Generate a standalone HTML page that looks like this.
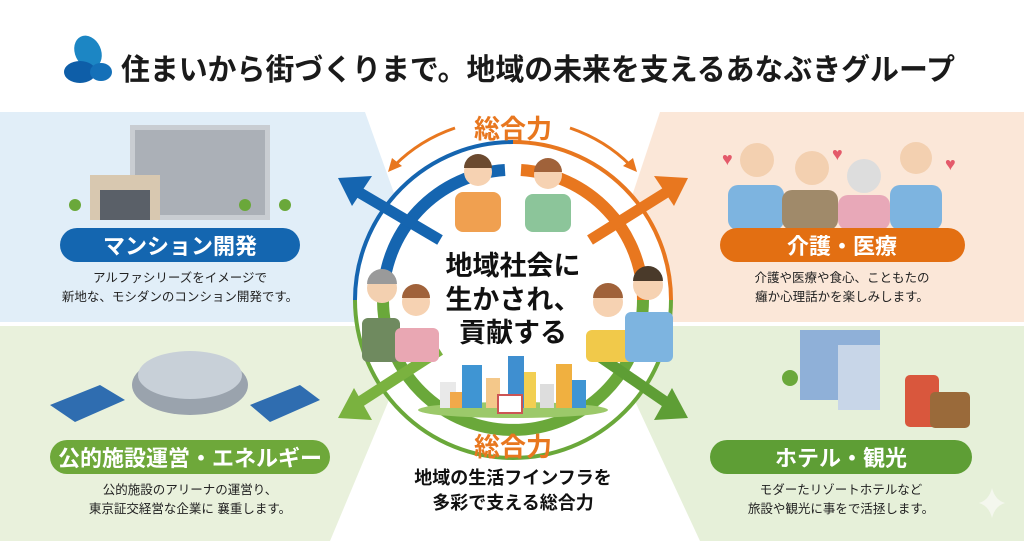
<!DOCTYPE html>
<html><head><meta charset="utf-8"><style>
html,body{margin:0;padding:0;width:1024px;height:541px;overflow:hidden;background:#fff}
svg text{font-family:"Liberation Sans","Noto Sans CJK JP",sans-serif}
</style></head><body>
<svg width="1024" height="541" viewBox="0 0 1024 541" xmlns="http://www.w3.org/2000/svg">
<rect width="1024" height="541" fill="#fff"/>
<!-- panels -->
<polygon points="0,112 365,112 440,322 0,322" fill="#e1eef8"/>
<polygon points="660,112 1024,112 1024,322 590,322" fill="#fbe7d8"/>
<polygon points="0,326 420,326 330,541 0,541" fill="#e9f1dc"/>
<polygon points="600,326 1024,326 1024,541 700,541" fill="#e6f0d9"/>
<!-- title -->
<ellipse cx="88" cy="52" rx="13" ry="17" fill="#1c86c4" transform="rotate(-25 88 52)"/>
<ellipse cx="80" cy="72" rx="16" ry="11" fill="#0e5ea8"/>
<ellipse cx="101" cy="72" rx="11" ry="9" fill="#1470b8"/>
<text x="121" y="80" font-size="30" font-weight="bold" fill="#1a1a1a" textLength="834" lengthAdjust="spacingAndGlyphs">住まいから街づくりまで。地域の未来を支えるあなぶきグループ</text>
<!-- center circle -->
<circle cx="513" cy="300" r="158" fill="#fff"/>
<path d="M513,142 A158,158 0 0 0 355,300" fill="none" stroke="#1565b0" stroke-width="4"/>
<path d="M513,142 A158,158 0 0 1 671,300" fill="none" stroke="#e8771f" stroke-width="4"/>
<path d="M355,300 A158,158 0 0 0 671,300" fill="none" stroke="#6aa83a" stroke-width="4"/>
<path d="M505,170 A130,130 0 0 0 383,300" fill="none" stroke="#1565b0" stroke-width="12"/>
<path d="M521,170 A130,130 0 0 1 643,300" fill="none" stroke="#e8771f" stroke-width="12"/>
<path d="M383,300 A130,130 0 0 0 643,300" fill="none" stroke="#6aa83a" stroke-width="12"/>
<!-- diagonal arrows -->
<g stroke-width="11" fill="none">
<line x1="440" y1="240" x2="355" y2="190" stroke="#1565b0"/>
<line x1="590" y1="240" x2="670" y2="190" stroke="#e8771f"/>
<line x1="440" y1="350" x2="355" y2="405" stroke="#7ab23f"/>
<line x1="590" y1="350" x2="670" y2="405" stroke="#5e9e35"/>
</g>
<polygon points="338,178 372,176 352,206" fill="#1565b0"/>
<polygon points="688,178 654,176 674,206" fill="#e8771f"/>
<polygon points="338,418 354,388 372,420" fill="#7ab23f"/>
<polygon points="688,418 672,388 654,420" fill="#5e9e35"/>
<!-- top 総合力 arrows -->
<path d="M455,128 Q420,140 395,165" fill="none" stroke="#e8771f" stroke-width="3"/>
<polygon points="388,172 392,158 402,166" fill="#e8771f"/>
<path d="M570,128 Q605,140 630,165" fill="none" stroke="#e8771f" stroke-width="3"/>
<polygon points="637,172 633,158 623,166" fill="#e8771f"/>
<text x="513" y="138" font-size="26" font-weight="bold" fill="#e8771f" text-anchor="middle">総合力</text>
<!-- people -->
<g>
<rect x="455" y="192" width="46" height="40" rx="8" fill="#f0a050"/><circle cx="478" cy="172" r="14" fill="#f6d2b2"/><path d="M464,168 a14,14 0 0 1 28,0 z" fill="#6b4a2f"/>
<rect x="525" y="194" width="46" height="38" rx="8" fill="#8cc59a"/><circle cx="548" cy="175" r="14" fill="#f6d2b2"/><path d="M534,172 a14,14 0 0 1 28,0 z" fill="#a0623a"/>
<rect x="362" y="318" width="38" height="44" rx="6" fill="#6f8a5f"/><circle cx="382" cy="288" r="15" fill="#f3d0b0"/><path d="M367,284 a15,15 0 0 1 30,0 z" fill="#9a9a9a"/>
<rect x="395" y="328" width="44" height="34" rx="6" fill="#e9a7b3"/><circle cx="416" cy="302" r="14" fill="#f6d2b2"/><path d="M402,298 a14,14 0 0 1 28,0 z" fill="#a0623a"/>
<rect x="586" y="330" width="48" height="32" rx="6" fill="#f1c94a"/><circle cx="608" cy="302" r="15" fill="#f6d2b2"/><path d="M593,298 a15,15 0 0 1 30,0 z" fill="#a0623a"/>
<rect x="625" y="312" width="48" height="50" rx="6" fill="#7db4e0"/><circle cx="648" cy="285" r="15" fill="#f6d2b2"/><path d="M633,281 a15,15 0 0 1 30,0 z" fill="#4a3a2a"/>
</g>
<!-- center text -->
<text x="513" y="275" font-size="27" font-weight="bold" fill="#111" text-anchor="middle">地域社会に</text>
<text x="513" y="309" font-size="27" font-weight="bold" fill="#111" text-anchor="middle">生かされ、</text>
<text x="513" y="342" font-size="27" font-weight="bold" fill="#111" text-anchor="middle">貢献する</text>
<!-- city -->
<ellipse cx="513" cy="410" rx="95" ry="8" fill="#9cc96a"/>
<rect x="440" y="382" width="16" height="26" fill="#e9e9e9"/><rect x="450" y="392" width="16" height="16" fill="#f1a94a"/>
<rect x="462" y="365" width="20" height="43" fill="#3f95d3"/><rect x="486" y="378" width="14" height="30" fill="#f4c88a"/>
<rect x="508" y="356" width="16" height="52" fill="#3f8fd0"/><rect x="524" y="372" width="12" height="36" fill="#f2cf52"/>
<rect x="540" y="384" width="14" height="24" fill="#ddd"/><rect x="556" y="364" width="16" height="44" fill="#f0b040"/><rect x="572" y="380" width="14" height="28" fill="#3f95d3"/>
<rect x="498" y="395" width="24" height="18" fill="#fff" stroke="#c55" stroke-width="2"/>
<!-- bottom 総合力 -->
<text x="513" y="456" font-size="26" font-weight="bold" fill="#e8771f" text-anchor="middle">総合力</text>
<text x="513" y="484" font-size="18" font-weight="bold" fill="#111" text-anchor="middle">地域の生活フインフラを</text>
<text x="513" y="509" font-size="18" font-weight="bold" fill="#111" text-anchor="middle">多彩で支える総合力</text>
<!-- mansion illustration -->
<rect x="130" y="125" width="140" height="95" fill="#c9cdd2"/><rect x="135" y="130" width="130" height="85" fill="#8d949b" opacity=".5"/>
<rect x="90" y="175" width="70" height="45" fill="#d8c8b0"/><rect x="100" y="190" width="50" height="30" fill="#5a6068"/>
<circle cx="75" cy="205" r="6" fill="#6aa83a"/><circle cx="245" cy="205" r="6" fill="#6aa83a"/><circle cx="285" cy="205" r="6" fill="#6aa83a"/>
<rect x="60" y="228" width="240" height="34" rx="17" fill="#1466b0"/>
<text x="180" y="254" font-size="22" font-weight="bold" fill="#fff" text-anchor="middle">マンション開発</text>
<text x="180" y="282" font-size="12.5" fill="#222" text-anchor="middle">アルファシリーズをイメージで</text>
<text x="180" y="301" font-size="12.5" fill="#222" text-anchor="middle">新地な、モシダンのコンション開発です。</text>
<!-- care illustration -->
<text x="722" y="165" font-size="18" fill="#e45a6a">♥</text><text x="832" y="160" font-size="18" fill="#e45a6a">♥</text><text x="945" y="170" font-size="18" fill="#e45a6a">♥</text>
<rect x="728" y="185" width="56" height="45" rx="10" fill="#7db4e0"/><circle cx="757" cy="160" r="17" fill="#f3d0b0"/>
<rect x="782" y="190" width="56" height="40" rx="10" fill="#a08a6a"/><circle cx="812" cy="168" r="17" fill="#f3d0b0"/>
<rect x="838" y="195" width="52" height="35" rx="10" fill="#e8a8b8"/><circle cx="864" cy="176" r="17" fill="#ddd"/>
<rect x="890" y="185" width="52" height="45" rx="10" fill="#7db4e0"/><circle cx="916" cy="158" r="16" fill="#f3d0b0"/>
<rect x="720" y="228" width="245" height="34" rx="17" fill="#e36f12"/>
<text x="842" y="254" font-size="22" font-weight="bold" fill="#fff" text-anchor="middle">介護・医療</text>
<text x="842" y="282" font-size="12.5" fill="#222" text-anchor="middle">介護や医療や食心、こともたの</text>
<text x="842" y="301" font-size="12.5" fill="#222" text-anchor="middle">癰か心理話かを楽しみします。</text>
<!-- arena/solar -->
<ellipse cx="190" cy="385" rx="58" ry="30" fill="#9aa3ad"/><ellipse cx="190" cy="375" rx="52" ry="24" fill="#c8d0d8"/>
<polygon points="50,405 100,385 125,400 75,422" fill="#2f6db0"/>
<polygon points="250,405 300,385 320,400 270,422" fill="#2f6db0"/>
<rect x="50" y="440" width="280" height="34" rx="17" fill="#6ea83a"/>
<text x="190" y="466" font-size="22" font-weight="bold" fill="#fff" text-anchor="middle">公的施設運営・エネルギー</text>
<text x="190" y="494" font-size="12.5" fill="#222" text-anchor="middle">公的施設のアリーナの運営り、</text>
<text x="190" y="513" font-size="12.5" fill="#222" text-anchor="middle">東京証交経営な企業に 襄重します。</text>
<!-- hotel -->
<rect x="800" y="330" width="80" height="70" fill="#8fb0d8"/><rect x="838" y="345" width="42" height="65" fill="#c8d6e8"/>
<circle cx="790" cy="378" r="8" fill="#6aa83a"/>
<rect x="905" y="375" width="34" height="52" rx="5" fill="#d9573d"/><rect x="930" y="392" width="40" height="36" rx="5" fill="#9a6a3a"/>
<rect x="710" y="440" width="262" height="34" rx="17" fill="#5e9e35"/>
<text x="841" y="466" font-size="22" font-weight="bold" fill="#fff" text-anchor="middle">ホテル・観光</text>
<text x="841" y="494" font-size="12.5" fill="#222" text-anchor="middle">モダーたリゾートホテルなど</text>
<text x="841" y="513" font-size="12.5" fill="#222" text-anchor="middle">旅設や観光に事をで活拯します。</text>
<path d="M992,488 Q995,500 1005,503 Q995,506 992,518 Q989,506 979,503 Q989,500 992,488z" fill="#f4f7ee"/>
</svg>
</body></html>
